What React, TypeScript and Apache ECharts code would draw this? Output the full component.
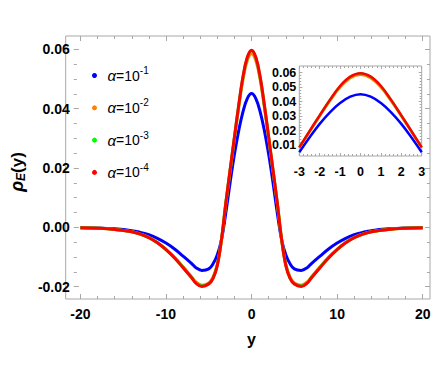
import React, { useEffect, useRef } from "react";
import * as echarts from "echarts";

// positions along y
const yPos = [-20, -18, -16, -14, -13, -12, -11, -10, -9, -8, -7, -6.5, -5.8, -5, -4.5, -4, -3.5, -3, -2.5, -2, -1.5, -1, -0.5, 0, 0.5, 1, 1.5, 2, 2.5, 3, 3.5, 4, 4.5, 5, 5.8, 6.5, 7, 8, 9, 10, 11, 12, 13, 14, 16, 18, 20];

// rho_E(y) for alpha = 1e-1
const rhoA1 = [-0.0001, -0.0002, -0.0005, -0.0011, -0.0017, -0.0025, -0.0037, -0.0053, -0.0073, -0.0097, -0.0122, -0.0136, -0.0145, -0.014, -0.0123, -0.0092, -0.004, 0.005, 0.0152, 0.0246, 0.0326, 0.039, 0.0434, 0.0451, 0.0434, 0.039, 0.0326, 0.0246, 0.0152, 0.005, -0.004, -0.0092, -0.0123, -0.014, -0.0145, -0.0136, -0.0122, -0.0097, -0.0073, -0.0053, -0.0037, -0.0025, -0.0017, -0.0011, -0.0005, -0.0002, -0.0001];
// alpha = 1e-2
const rhoA2 = [-0.0001, -0.0003, -0.0007, -0.0015, -0.0023, -0.0034, -0.0051, -0.0074, -0.0101, -0.0133, -0.0167, -0.0184, -0.0195, -0.0187, -0.0168, -0.0125, -0.0037, 0.0082, 0.0191, 0.0299, 0.0404, 0.0498, 0.0562, 0.0585, 0.0562, 0.0498, 0.0404, 0.0299, 0.0191, 0.0082, -0.0037, -0.0125, -0.0168, -0.0187, -0.0195, -0.0184, -0.0167, -0.0133, -0.0101, -0.0074, -0.0051, -0.0034, -0.0023, -0.0015, -0.0007, -0.0003, -0.0001];
// alpha = 1e-3
const rhoA3 = [-0.0001, -0.0003, -0.0007, -0.0015, -0.0023, -0.0035, -0.0052, -0.0075, -0.0102, -0.0135, -0.0169, -0.0187, -0.0198, -0.019, -0.0171, -0.0127, -0.0038, 0.0084, 0.0194, 0.0304, 0.0411, 0.0506, 0.0571, 0.0595, 0.0571, 0.0506, 0.0411, 0.0304, 0.0194, 0.0084, -0.0038, -0.0127, -0.0171, -0.019, -0.0198, -0.0187, -0.0169, -0.0135, -0.0102, -0.0075, -0.0052, -0.0035, -0.0023, -0.0015, -0.0007, -0.0003, -0.0001];
// alpha = 1e-4
const rhoA4 = [-0.0001, -0.0003, -0.0007, -0.0015, -0.0023, -0.0035, -0.0052, -0.0075, -0.0103, -0.0136, -0.017, -0.0188, -0.0199, -0.0191, -0.0172, -0.0128, -0.0038, 0.0084, 0.0195, 0.0305, 0.0412, 0.0508, 0.0573, 0.0597, 0.0573, 0.0508, 0.0412, 0.0305, 0.0195, 0.0084, -0.0038, -0.0128, -0.0172, -0.0191, -0.0199, -0.0188, -0.017, -0.0136, -0.0103, -0.0075, -0.0052, -0.0035, -0.0023, -0.0015, -0.0007, -0.0003, -0.0001];

const seriesNames = ["α=10^-1", "α=10^-2", "α=10^-3", "α=10^-4"];
const seriesExps = ["-1", "-2", "-3", "-4"];
const seriesColors = ["#0000ff", "#ff8000", "#00ff00", "#ff0000"];
const seriesValues = [rhoA1, rhoA2, rhoA3, rhoA4];

const FRAME = "#a8a8a8";
const FONT = "Liberation Sans";

export default function App() {
  const ref = useRef<HTMLDivElement>(null);
  useEffect(() => {
    if (!ref.current) return;
    const chart = echarts.init(ref.current, null, { renderer: "svg" });
    const pts = (vals: number[]) => yPos.map((x, i) => [x, vals[i]]);
    const insetPts = (vals: number[]) =>
      yPos.map((x, i) => [x, vals[i]]).filter((p) => Math.abs(p[0]) <= 3);

    const tickCommon = (len: number, minorLen: number, split: number) => ({
      axisLine: { show: false, onZero: false },
      axisTick: { show: true, inside: true, length: len, lineStyle: { color: FRAME, width: 1 } },
      minorTick: { show: true, splitNumber: split, length: minorLen, lineStyle: { color: FRAME, width: 1 } },
      splitLine: { show: false },
    });
    const labelStyle = { color: "#000", fontWeight: "bold", fontSize: 14, fontFamily: FONT };
    const insetLabelStyle = { color: "#000", fontWeight: "bold", fontSize: 12.5, fontFamily: FONT };
    const yFmt = (v: number) => {
      const r = Math.round(v * 1000) / 1000;
      return (r < 0 ? "-" : "") + Math.abs(r).toFixed(2);
    };
    const xFmt = (v: number) => String(Math.round(v));

    const mainSeries = seriesNames.map((n, k) => ({
      name: n,
      type: "line",
      xAxisIndex: 0,
      yAxisIndex: 0,
      data: pts(seriesValues[k]),
      showSymbol: false,
      smooth: 0.4,
      clip: false,
      lineStyle: { color: seriesColors[k], width: 3 },
      itemStyle: { color: seriesColors[k] },
    }));
    const insetSeries = seriesNames.map((n, k) => ({
      name: n,
      type: "line",
      xAxisIndex: 2,
      yAxisIndex: 2,
      data: insetPts(seriesValues[k]),
      showSymbol: false,
      smooth: 0.4,
      clip: false,
      lineStyle: { color: seriesColors[k], width: 2.5 },
      itemStyle: { color: seriesColors[k] },
    }));

    chart.setOption({
      animation: false,
      textStyle: { fontFamily: FONT },
      grid: [
        { left: 72.3, right: 13.3, top: 49.3, bottom: 95.3 },
        { left: 299.3, right: 14.3, top: 72.7, bottom: 237 },
      ],
      xAxis: [
        {
          type: "value", gridIndex: 0, position: "bottom", min: -20, max: 20, interval: 10, offset: 12.3,
          ...tickCommon(5, 3, 5),
          axisLabel: { ...labelStyle, margin: 8, formatter: xFmt },
          name: "y", nameLocation: "middle", nameGap: 32,
          nameTextStyle: { color: "#000", fontWeight: "bold", fontSize: 16, fontFamily: FONT },
        },
        {
          type: "value", gridIndex: 0, position: "top", min: -20, max: 20, interval: 10, offset: 13.3,
          ...tickCommon(5, 3, 5),
          axisLabel: { show: false },
        },
        {
          type: "value", gridIndex: 1, position: "bottom", min: -3, max: 3, interval: 1, offset: 11,
          ...tickCommon(3, 2, 5),
          axisLabel: { ...insetLabelStyle, margin: 9, formatter: xFmt },
        },
        {
          type: "value", gridIndex: 1, position: "top", min: -3, max: 3, interval: 1, offset: 6.7,
          ...tickCommon(3, 2, 5),
          axisLabel: { show: false },
        },
      ],
      yAxis: [
        {
          type: "value", gridIndex: 0, position: "left", min: -0.02, max: 0.06, interval: 0.02, offset: 6.6,
          ...tickCommon(5, 3, 4),
          axisLabel: { ...labelStyle, margin: 4, formatter: yFmt },
          name: "{r|ρ}{e|E}{p|(y)}", nameLocation: "middle", nameGap: 36, nameRotate: 90,
          nameTextStyle: {
            color: "#000", fontFamily: FONT, padding: [0, 8, 0, 0],
            rich: {
              r: { fontSize: 18, fontStyle: "italic", fontWeight: "bold", color: "#000", fontFamily: FONT, lineHeight: 20 },
              e: { fontSize: 12, fontStyle: "italic", fontWeight: "bold", color: "#000", fontFamily: FONT, verticalAlign: "bottom", lineHeight: 14 },
              p: { fontSize: 17, fontWeight: "bold", color: "#000", fontFamily: FONT, lineHeight: 20 },
            },
          },
        },
        {
          type: "value", gridIndex: 0, position: "right", min: -0.02, max: 0.06, interval: 0.02, offset: 7.3,
          ...tickCommon(5, 3, 4),
          axisLabel: { show: false },
        },
        {
          type: "value", gridIndex: 1, position: "left", min: 0.01, max: 0.06, interval: 0.01, offset: 0,
          ...tickCommon(3, 2, 5),
          axisLabel: { ...insetLabelStyle, margin: 3, lineHeight: 12, formatter: yFmt },
        },
        {
          type: "value", gridIndex: 1, position: "right", min: 0.01, max: 0.06, interval: 0.01, offset: 0,
          ...tickCommon(3, 2, 5),
          axisLabel: { show: false },
        },
      ],
      legend: {
        data: seriesNames,
        orient: "vertical",
        left: 87,
        top: 60.5,
        icon: "circle",
        itemWidth: 16,
        itemHeight: 5,
        itemGap: 12.3,
        selectedMode: false,
        formatter: (name: string) => {
          const k = seriesNames.indexOf(name);
          return "{a|α}{b|=10}{s|" + seriesExps[k] + "}";
        },
        textStyle: {
          color: "#000",
          fontFamily: FONT,
          fontSize: 14,
          lineHeight: 20,
          rich: {
            a: { fontSize: 15, fontStyle: "italic", color: "#000", fontFamily: FONT, lineHeight: 20 },
            b: { fontSize: 14, color: "#000", fontFamily: FONT, lineHeight: 20 },
            s: { fontSize: 10, color: "#000", fontFamily: FONT, lineHeight: 12, verticalAlign: "top" },
          },
        },
      },
      graphic: [
        {
          type: "rect",
          shape: { x: 65.7, y: 36, width: 364.3, height: 263 },
          style: { fill: "none", stroke: FRAME, lineWidth: 1 },
          silent: true,
        },
        {
          type: "rect",
          shape: { x: 299.3, y: 66, width: 122.4, height: 90 },
          style: { fill: "none", stroke: FRAME, lineWidth: 1 },
          silent: true,
        },
      ],
      series: [...mainSeries, ...insetSeries],
    });
    return () => chart.dispose();
  }, []);
  return <div ref={ref} style={{ width: 436, height: 382, position: "absolute", left: 0, top: 0 }} />;
}
